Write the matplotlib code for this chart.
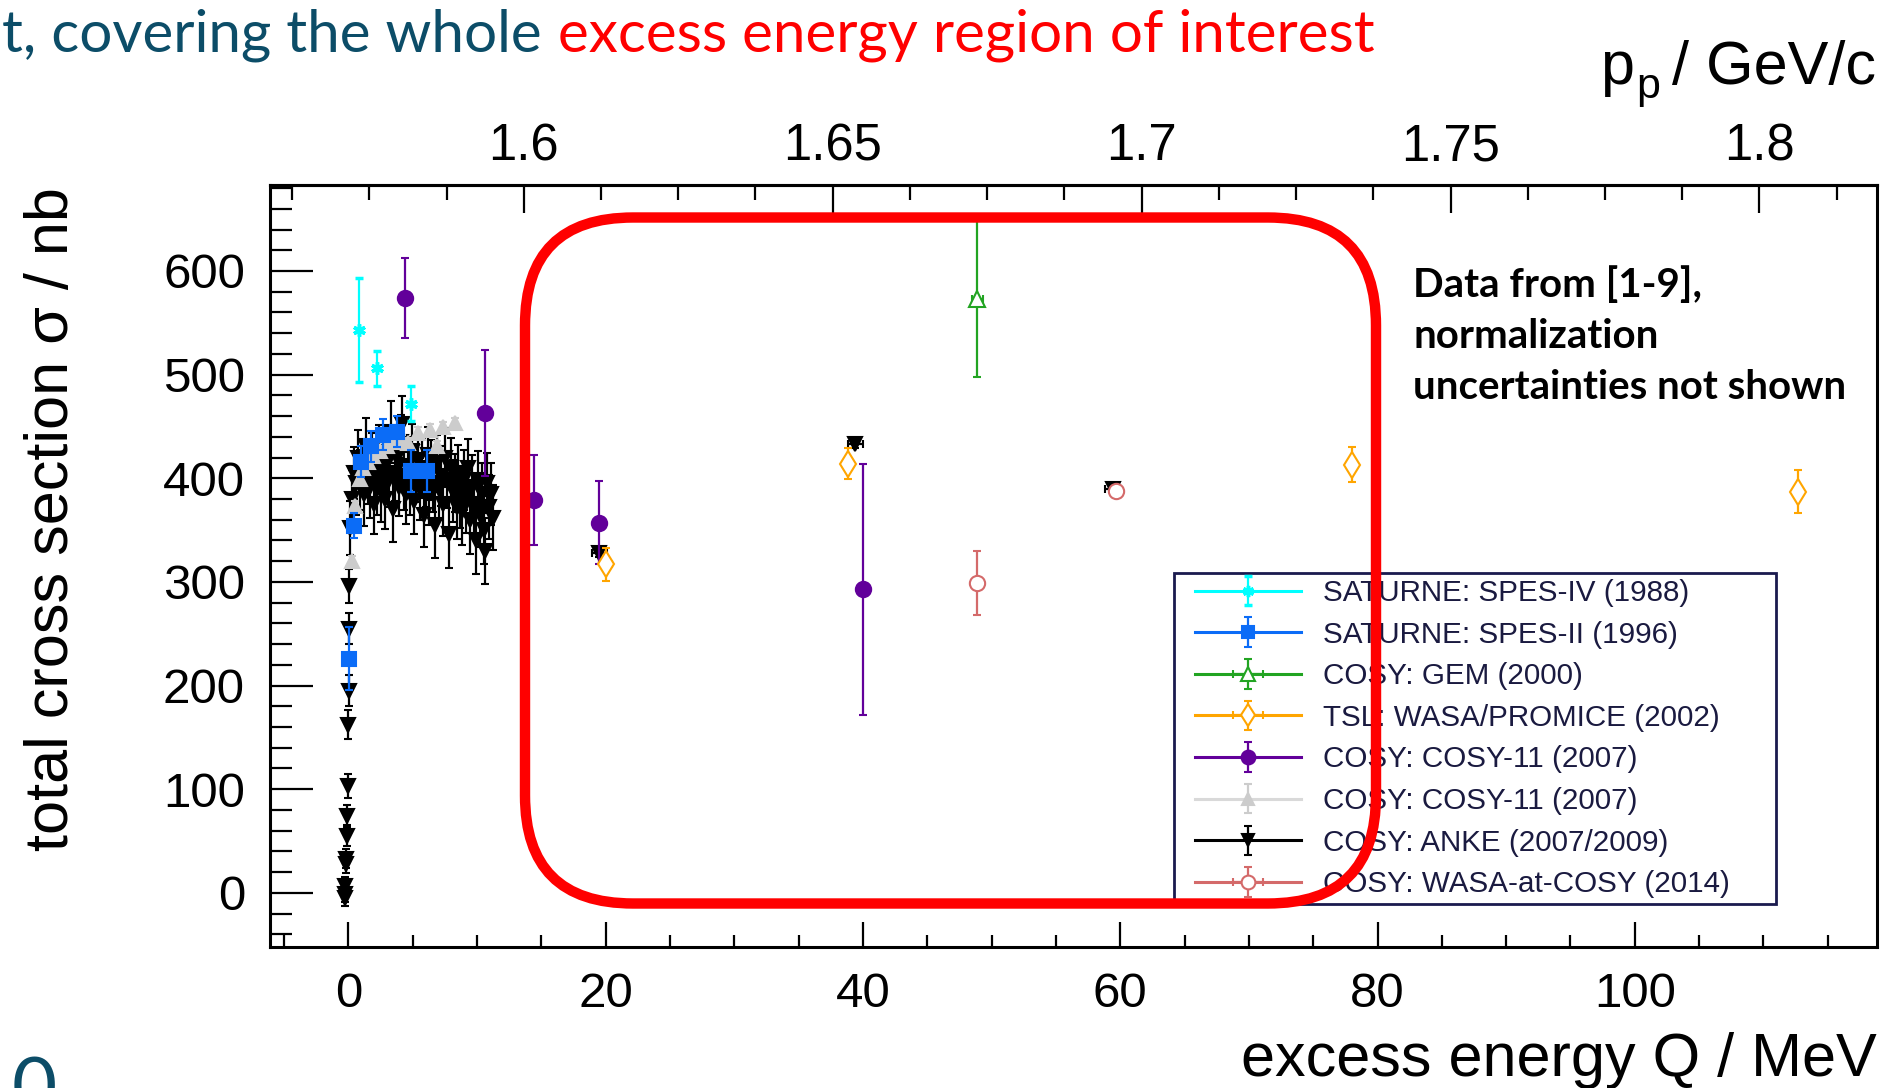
import numpy as np
import matplotlib
matplotlib.use("Agg")
import matplotlib.pyplot as plt
from matplotlib.lines import Line2D
from matplotlib.patches import FancyBboxPatch, Rectangle
from matplotlib.transforms import IdentityTransform
from matplotlib.ticker import MultipleLocator, FixedLocator, FuncFormatter
from matplotlib.legend_handler import HandlerTuple

plt.rcParams['font.family'] = ['Liberation Sans', 'DejaVu Sans']

# ---- data (Q in MeV, sigma in nb) ----
spes4_q = [0.85, 2.25, 4.85]
spes4_s = [543, 506, 472]
spes4_e = [50, 17, 17]

spes2_q = [0.07, 0.42, 1.0, 1.75, 2.7, 3.8, 4.85, 6.1]
spes2_s = [226, 354, 416, 431, 442, 445, 407, 407]
spes2_e = [30, 12, 15, 15, 15, 15, 20, 20]

gem_q = [48.9]
gem_s = [573]
gem_e = [75]

promice_q = [20.05, 38.85, 78.0, 112.7]
promice_s = [317, 414, 413, 387]
promice_e = [16, 15, 17, 21]

c11_q = [4.4, 10.6, 14.45, 19.5, 40.0]
c11_s = [574, 463, 379, 357, 293]
c11_e = [39, 61, 43, 40, 121]

c11b_q = [0.3, 0.52, 0.86, 1.17, 1.55, 1.94, 2.46, 2.98, 3.5, 4.15, 4.66,
          5.44, 6.35, 6.87, 7.38, 8.29]
c11b_s = [320, 373, 399, 410, 416, 421, 426, 431, 435, 437, 434,
          444, 447, 431, 449, 453]
c11b_e = [5, 5, 5, 5, 5, 5, 5, 5, 5, 5, 5, 5, 5, 5, 5, 5]

# ANKE near threshold (2007)
anke_thr_q = [-0.30, -0.28, -0.25, -0.22, -0.20, -0.15, -0.10, -0.05, 0.0, 0.02, 0.05, 0.08]
anke_thr_s = [-5, -1, 7, 28, 33, 55, 74, 103, 162, 195, 255, 296]
anke_thr_e = [8, 8, 8, 9, 9, 10, 11, 12, 14, 15, 15, 16]

# ANKE high statistics region
anke_q = [0.15, 0.3, 0.45, 0.6, 0.75, 0.9, 1.05, 1.2, 1.35, 1.5, 1.65, 1.8, 1.95,
          2.1, 2.25, 2.4, 2.55, 2.7, 2.85, 3.0, 3.15, 3.3, 3.45, 3.6, 3.75, 3.9,
          4.05, 4.2, 4.35, 4.5, 4.65, 4.8, 4.95, 5.1, 5.25, 5.4, 5.55, 5.7, 5.85,
          6.0, 6.15, 6.3, 6.45, 6.6, 6.75, 6.9, 7.05, 7.2, 7.35, 7.5, 7.65, 7.8,
          7.95, 8.1, 8.25, 8.4, 8.55, 8.7, 8.85, 9.0, 9.15, 9.3, 9.45, 9.6, 9.75,
          9.9, 10.05, 10.2, 10.35, 10.5, 10.65, 10.8, 10.95, 11.1, 11.25]
anke_s = [352, 380, 405, 395, 420, 398, 412, 385, 430, 402, 392, 418, 375,
          408, 396, 425, 388, 410, 380, 415, 398, 445, 370, 405, 420, 392,
          435, 452, 400, 385, 412, 395, 425, 378, 405, 418, 390, 410, 365,
          400, 422, 385, 408, 395, 355, 415, 390, 402, 375, 420, 398, 346,
          410, 388, 395, 372, 405, 382, 368, 398, 378, 410, 360, 392, 375,
          340, 398, 365, 385, 350, 330, 395, 372, 385, 362]
anke_e = [26, 28, 25, 30, 27, 29, 26, 31, 28, 27, 30, 26, 29,
          28, 31, 26, 30, 27, 29, 28, 26, 30, 32, 27, 29, 28,
          26, 27, 31, 29, 28, 30, 27, 32, 28, 26, 30, 29, 31,
          28, 27, 30, 29, 28, 32, 27, 30, 29, 31, 28, 27, 33,
          29, 30, 28, 31, 27, 30, 32, 29, 31, 28, 33, 30, 29,
          32, 28, 31, 30, 33, 32, 29, 31, 30, 31]

# ANKE 2009 at higher Q
anke2_q = [19.5, 39.4, 59.4]
anke2_s = [328, 433, 390]
anke2_e = [4, 4, 4]

wasa_q = [48.9, 59.7]
wasa_s = [299, 388]
wasa_e = [31, 5]

# top axis ticks (proton beam momentum, GeV/c)
pp_ticks = [1.6, 1.65, 1.7, 1.75, 1.8]

# top axis: proton beam momentum for pd -> 3He eta
m_p, m_d = 938.272, 1875.613
m_thr = 2808.391 + 547.862


def q_to_p(q):
    q = np.asarray(q, dtype=float)
    s = (m_thr + q) ** 2
    e = (s - m_p ** 2 - m_d ** 2) / (2 * m_d)
    return np.sqrt(np.clip(e ** 2 - m_p ** 2, 0, None)) / 1000.0


def p_to_q(p):
    p = np.asarray(p, dtype=float)
    e = np.sqrt((1000.0 * p) ** 2 + m_p ** 2)
    s = m_p ** 2 + m_d ** 2 + 2 * m_d * e
    return np.sqrt(s) - m_thr


W, H = 1884, 1088
fig = plt.figure(figsize=(W / 100, H / 100), dpi=100)
ax = fig.add_axes([0.1433, 0.1299, 0.8528, 0.7001])


def draw(q, s, e, color, marker, ms, mfc=None, xerr=None, z=3, mew=1.5):
    return ax.errorbar(q, s, yerr=e, xerr=xerr, fmt='', ls='none', marker=marker,
                       color=color, ms=ms, mfc=color if mfc is None else mfc,
                       mec=color, mew=mew, elinewidth=1.6, capsize=3, capthick=1.6,
                       zorder=z)


h_anke = draw(anke_q, anke_s, anke_e, 'black', 'v', 10, z=2)
draw(anke_thr_q, anke_thr_s, anke_thr_e, 'black', 'v', 10, z=2)
draw(anke2_q, anke2_s, anke2_e, 'black', 'v', 10, xerr=0.6, z=4)
h_c11b = draw(c11b_q, c11b_s, c11b_e, '#cccccc', '^', 10, z=3)
h_spes2 = draw(spes2_q, spes2_s, spes2_e, '#0b6cf7', 's', 10, z=4)
h_spes4 = draw(spes4_q, spes4_s, spes4_e, '#00ffff', (6, 2, 0), 9, z=5, mew=2.5)
h_c11 = draw(c11_q, c11_s, c11_e, '#62009a', 'o', 11, z=5)
h_prom = draw(promice_q, promice_s, promice_e, '#ffa500', 'd', 13, mfc='white', xerr=0.4, z=5)
h_gem = draw(gem_q, gem_s, gem_e, '#22a422', '^', 11, mfc='white', xerr=0.4, z=5)
h_wasa = draw(wasa_q, wasa_s, wasa_e, '#d46a6a', 'o', 11, mfc='white', xerr=0.5, z=5)

ax.set_xlim(-6.1, 118.8)
ax.set_ylim(-52, 683)
ax.xaxis.set_major_locator(MultipleLocator(20))
ax.xaxis.set_minor_locator(MultipleLocator(5))
ax.yaxis.set_major_locator(MultipleLocator(100))
ax.yaxis.set_minor_locator(MultipleLocator(20))
ax.tick_params(axis='x', which='major', direction='in', length=18, width=1.6,
               labelsize=35.5, pad=18, top=False)
ax.tick_params(axis='x', which='minor', direction='in', length=9, width=1.6, top=False)
ax.tick_params(axis='y', which='major', direction='in', length=31, width=1.6,
               labelsize=35.5, pad=18, right=False)
ax.tick_params(axis='y', which='minor', direction='in', length=16, width=1.6, right=False)
for sp in ax.spines.values():
    sp.set_linewidth(2.2)

top = ax.secondary_xaxis('top', functions=(q_to_p, p_to_q))
top.xaxis.set_major_locator(FixedLocator(pp_ticks))
top.xaxis.set_minor_locator(MultipleLocator(0.0125))
top.tick_params(axis='x', which='major', direction='in', length=20, width=1.6,
                labelsize=36.5, pad=10)
top.tick_params(axis='x', which='minor', direction='in', length=11, width=1.6)
top.spines['top'].set_linewidth(2.2)
top.xaxis.set_major_formatter(FuncFormatter(lambda v, _: f'{v:g}'))

# axis labels (ROOT style, outer corners)
fig.text(0.028, 0.523, 'total cross section σ / nb', rotation=90,
         ha='center', va='center', fontsize=44)
fig.text(0.996, 1 - 1076 / H, 'excess energy Q / MeV', ha='right', va='baseline', fontsize=44)
fig.text(0.996, 1 - 84 / H, '/ GeV/c', ha='right', va='baseline', fontsize=44)
fig.text(1634 / W, 1 - 84 / H, 'p', ha='right', va='baseline', fontsize=44)
fig.text(1636 / W, 1 - 98 / H, 'p', ha='left', va='baseline', fontsize=31)

# legend (frame drawn separately, ROOT TLegend look)
labels = ['SATURNE: SPES-IV (1988)', 'SATURNE: SPES-II (1996)', 'COSY: GEM (2000)',
          'TSL: WASA/PROMICE (2002)', 'COSY: COSY-11 (2007)', 'COSY: COSY-11 (2007)',
          'COSY: ANKE (2007/2009)', 'COSY: WASA-at-COSY (2014)']
conts = [h_spes4, h_spes2, h_gem, h_prom, h_c11, h_c11b, h_anke, h_wasa]
line_cols = ['#00ffff', '#0b6cf7', '#22a422', '#ffa500', '#62009a', '#d9d9d9', 'black', '#d46a6a']
handles = [(Line2D([], [], color=c, lw=2.2), h) for c, h in zip(line_cols, conts)]
frame = Rectangle((1174, H - 904), 602, 331, transform=IdentityTransform(),
                  facecolor='white', edgecolor='#1a1a4e', lw=2, zorder=7)
ax.add_patch(frame)
leg = ax.legend(handles, labels, loc='upper left', bbox_to_anchor=(1195 / W, 1 - 579 / H),
                bbox_transform=fig.transFigure, borderaxespad=0, fontsize=21.3,
                handlelength=3.57, handletextpad=0.77, labelspacing=0.46,
                borderpad=0, frameon=False, markerscale=0.9,
                handler_map={tuple: HandlerTuple(ndivide=1)})
for t in leg.get_texts():
    t.set_color('#1a1a40')
leg.set_zorder(8)

# slide overlay: title text, red region box, annotation
teal = '#0c4d68'
fig.text(542 / W, 1 - 52 / H, 't, covering the whole', ha='right', va='baseline',
         fontsize=42, color=teal, family='Lato')
fig.text(558 / W, 1 - 52 / H, 'excess energy region of interest', ha='left', va='baseline',
         fontsize=42, color='#ff0000', family='Lato')
fig.text(12 / W, 1 - 1056 / H, '0', ha='left', va='top', fontsize=56,
         color=teal, family='Lato')

box = FancyBboxPatch((525, 184.5), 851, 686, boxstyle='round,pad=0,rounding_size=108',
                     transform=IdentityTransform(), fill=False, ec='#ff0000', lw=7.5,
                     zorder=10)
fig.add_artist(box)

for i, line in enumerate(['Data from [1-9],', 'normalization', 'uncertainties not shown']):
    fig.text(1413 / W, 1 - (296.7 + 51 * i) / H, line, ha='left', va='baseline',
             fontsize=29, fontweight='bold', family='Lato', color='black')

fig.savefig('out.png', dpi=100)
